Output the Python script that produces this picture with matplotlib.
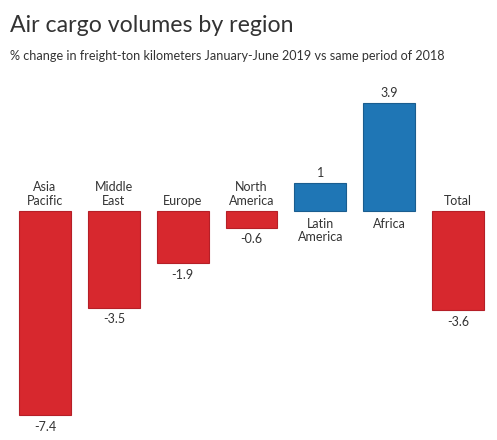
import matplotlib
matplotlib.use("Agg")
import matplotlib.pyplot as plt

# data
regions = ["Asia\nPacific", "Middle\nEast", "Europe", "North\nAmerica",
           "Latin\nAmerica", "Africa", "Total"]
values = [-7.4, -3.5, -1.9, -0.6, 1, 3.9, -3.6]
value_labels = ["-7.4", "-3.5", "-1.9", "-0.6", "1", "3.9", "-3.6"]

title = "Air cargo volumes by region"
subtitle = "% change in freight-ton kilometers January-June 2019 vs same period of 2018"

plt.rcParams['font.family'] = ['Lato', 'DejaVu Sans']
txt = '#333333'
red, red_edge = '#d7282e', '#b51f27'
blue, blue_edge = '#1f76b5', '#1a5d8f'

fig = plt.figure(figsize=(4.97, 4.4), dpi=100)
ax = fig.add_axes([0, 0, 1, 1])
ax.set_xlim(-0.654, 6.567)
ax.set_ylim(-8.30, 7.645)
ax.axis('off')

x = list(range(len(values)))
cols = [blue if v > 0 else red for v in values]
edges = [blue_edge if v > 0 else red_edge for v in values]
ax.bar(x, values, width=0.755, color=cols, edgecolor=edges, linewidth=0.8)

for xi, v, name, lab in zip(x, values, regions, value_labels):
    if v < 0:
        # name above the zero line, value below the bar
        ax.annotate(name, (xi, 0), xytext=(0, 3), textcoords='offset points',
                    ha='center', va='bottom', fontsize=9, color=txt, linespacing=1.15)
        ax.annotate(lab, (xi, v), xytext=(0, -4), textcoords='offset points',
                    ha='center', va='top', fontsize=9, color=txt)
    else:
        ax.annotate(name, (xi, 0), xytext=(0, -5), textcoords='offset points',
                    ha='center', va='top', fontsize=9, color=txt, linespacing=1.15)
        ax.annotate(lab, (xi, v), xytext=(0, 3), textcoords='offset points',
                    ha='center', va='bottom', fontsize=9, color=txt)

fig.text(10 / 497, 1 - 32 / 440, title, fontsize=16.7, color=txt, ha='left', va='baseline')
fig.text(10 / 497, 1 - 60 / 440, subtitle, fontsize=9.1, color=txt, ha='left', va='baseline')

fig.savefig("out.png", dpi=100)
